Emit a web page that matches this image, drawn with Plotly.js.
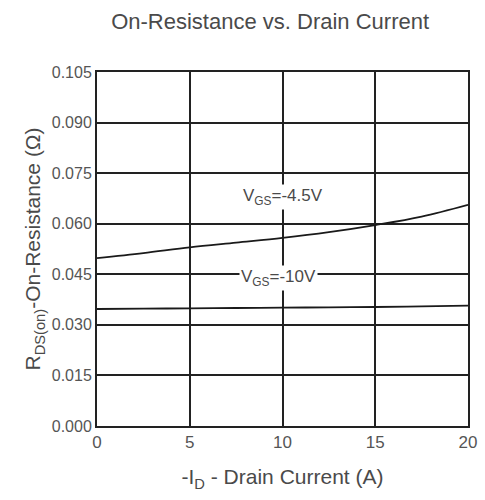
<!DOCTYPE html>
<html>
<head>
<meta charset="utf-8">
<script src="https://cdn.plot.ly/plotly-3.0.1.min.js"></script>
<style>html,body{margin:0;padding:0;background:#fff;}#chart{width:485px;height:500px;}</style>
</head>
<body>
<div id="chart"></div>
<script>
// Drain current (A)
const current = [0, 2.5, 5, 7.5, 10, 12.5, 15, 17.5, 20];
// On-resistance (Ohm) for VGS = -4.5V
const rdsVgs45 = [0.0498, 0.0513, 0.0530, 0.0544, 0.0558, 0.0575, 0.0596, 0.0621, 0.0656];
// On-resistance (Ohm) for VGS = -10V
const rdsVgs10 = [0.0347, 0.0348, 0.0349, 0.0350, 0.0351, 0.0352, 0.0353, 0.0355, 0.0357];
const seriesLabels = ['V<sub>GS</sub>=-4.5V', 'V<sub>GS</sub>=-10V'];
const labelPos = [[10.0, 0.0679], [9.76, 0.0439]];
const xTicks = [0, 5, 10, 15, 20];
const yTicks = [0, 0.015, 0.030, 0.045, 0.060, 0.075, 0.090, 0.105];

const lineStyle = {color: '#1a1a1a', width: 1.8, shape: 'spline'};
const traces = [
  {x: current, y: rdsVgs45, mode: 'lines', line: lineStyle, name: seriesLabels[0], hoverinfo: 'skip'},
  {x: current, y: rdsVgs10, mode: 'lines', line: lineStyle, name: seriesLabels[1], hoverinfo: 'skip'}
];
const font = {family: 'Liberation Sans, Arial, sans-serif', color: '#4a4a4a'};
const layout = {
  width: 485, height: 500,
  margin: {l: 97, r: 17, t: 72, b: 74},
  paper_bgcolor: '#fff', plot_bgcolor: '#fff',
  showlegend: false,
  font: font,
  title: {text: 'On-Resistance vs. Drain Current', x: 0.557, xanchor: 'center', y: 0.958, yanchor: 'middle',
          font: {family: font.family, size: 22, color: '#4a4a4a'}},
  xaxis: {
    range: [0, 20], tickvals: xTicks, ticktext: xTicks.map(String),
    showgrid: true, gridcolor: '#222', gridwidth: 2,
    showline: true, linecolor: '#222', linewidth: 2, mirror: true,
    zeroline: false, ticks: '', tickfont: {size: 17, color: '#555'},
    title: {text: '-I<sub>D</sub> - Drain Current (A)', font: {size: 21, color: '#4a4a4a'}, standoff: 18}
  },
  yaxis: {
    range: [0, 0.105], tickvals: yTicks, ticktext: yTicks.map(v => v.toFixed(3)),
    showgrid: true, gridcolor: '#222', gridwidth: 2,
    showline: true, linecolor: '#222', linewidth: 2, mirror: true,
    zeroline: false, ticks: '', tickfont: {size: 16, color: '#555'},
    title: {text: 'R<sub>DS(on)</sub>-On-Resistance (Ω)', font: {size: 21, color: '#4a4a4a'}, standoff: 5}
  },
  annotations: seriesLabels.map((t, i) => ({
    x: labelPos[i][0], y: labelPos[i][1], xref: 'x', yref: 'y', text: t,
    showarrow: false, bgcolor: '#fff', font: {size: 17, color: '#4a4a4a'}, borderpad: 1
  }))
};
Plotly.newPlot('chart', traces, layout, {staticPlot: true, displayModeBar: false});
</script>
</body>
</html>
